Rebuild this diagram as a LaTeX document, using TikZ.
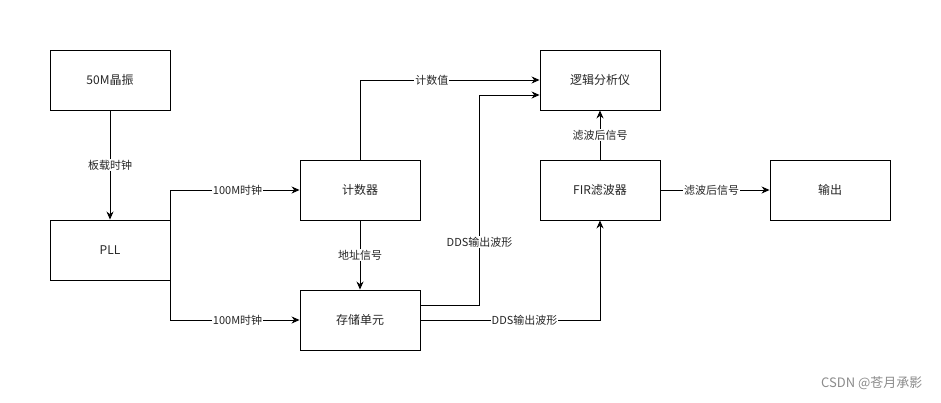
\documentclass[tikz,border=0pt]{standalone}
\usepackage{fontspec}
\setmainfont{Noto Sans CJK SC}
\usetikzlibrary{arrows.meta}
\begin{document}
\begin{tikzpicture}[x=1pt,y=-1pt,
  blk/.style={draw,line width=0.9pt,minimum width=120pt,minimum height=60pt,inner sep=0pt,font=\fontsize{12}{14}\selectfont,text=black!85},
  conn/.style={line width=0.9pt},
  arr/.style={conn,-{Stealth[length=8pt,width=7pt]}},
  lbl/.style={fill=white,inner sep=1pt,font=\fontsize{11}{13}\selectfont,text=black!85}]
\useasboundingbox[fill=white] (0,0) rectangle (941,402);
\node[blk] (osc) at (110,80) {50M晶振};
\node[blk] (pll) at (110,250) {PLL};
\node[blk] (cnt) at (360,190) {计数器};
\node[blk] (mem) at (360,320) {存储单元};
\node[blk] (la)  at (600,80) {逻辑分析仪};
\node[blk] (fir) at (600,190) {FIR滤波器};
\node[blk] (out) at (830,190) {输出};
\draw[arr] (osc.south) -- node[lbl]{板载时钟} (pll.north);
\draw[arr] (pll.north east) |- node[lbl,pos=0.76]{100M时钟} (cnt.west);
\draw[arr] (pll.south east) |- node[lbl,pos=0.76]{100M时钟} (mem.west);
\draw[arr] (cnt.south) -- node[lbl]{地址信号} (mem.north);
\draw[arr] (cnt.north) |- node[lbl,pos=0.7]{计数值} (la.west);
\coordinate (memA) at ([yshift=15pt]mem.east);
\coordinate (laB) at ([yshift=-15pt]la.west);
\draw[arr] (memA) -| node[lbl,pos=0.65]{DDS输出波形} ([xshift=-60pt]laB) -- (laB);
\draw[arr] (mem.east) -| node[lbl,pos=0.29]{DDS输出波形} (fir.south);
\draw[arr] (fir.north) -- node[lbl]{滤波后信号} (la.south);
\draw[arr] (fir.east) -- node[lbl,pos=0.47]{滤波后信号} (out.west);
\node[anchor=east,font=\fontsize{13}{15}\selectfont,text=black!45] (wm) at (926,383) {CSDN @苍月承影};
\end{tikzpicture}
\end{document}
